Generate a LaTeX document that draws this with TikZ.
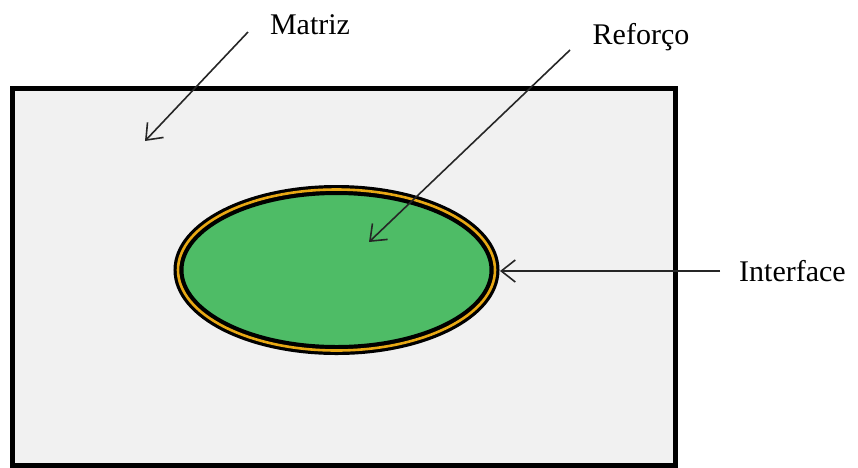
\documentclass[tikz,border=0pt]{standalone}
\usepackage{fontspec}
\setmainfont{Liberation Serif}
\usetikzlibrary{arrows.meta}
\definecolor{matrixgray}{RGB}{241,241,241}
\definecolor{fibergreen}{RGB}{78,188,102}
\definecolor{interorange}{RGB}{232,168,20}
\begin{document}
\begin{tikzpicture}[x=1pt,y=-1pt,
  lbl/.style={font=\fontsize{30}{34}\selectfont, inner sep=0pt},
  pointer/.style={draw=black!85, line width=1.6pt, -{Straight Barb[length=14pt,width=22pt,line width=1.6pt]}}]
\useasboundingbox (0,0) rectangle (858,467);
\fill[white] (0,0) rectangle (858,467);
% matrix
\draw[line width=5pt, fill=matrixgray] (12,88) rectangle (675,465);
% fibre with interface
\path[fill=fibergreen] (336.5,270) ellipse [x radius=158, y radius=80];
\draw[line width=10pt, black] (336.5,270) ellipse [x radius=158, y radius=80];
\draw[line width=2.6pt, interorange] (336.5,270) ellipse [x radius=158.5, y radius=80.5];
\coordinate (mtip) at (145,141);
\coordinate (rtip) at (369,242);
\coordinate (itip) at (500,271);
\node[lbl] (matriz) at (310,25) {Matriz};
\node[lbl] (reforco) at (641,37) {Reforço};
\node[lbl, anchor=west] (interface) at (739,271) {Interface};
\coordinate (ms) at (248,32);
\coordinate (rs) at (570,50);
\coordinate (is) at (720,271);
\draw[pointer] (ms) -- (mtip);
\draw[pointer] (rs) -- (rtip);
\draw[pointer] (is) -- (itip);
\end{tikzpicture}
\end{document}
